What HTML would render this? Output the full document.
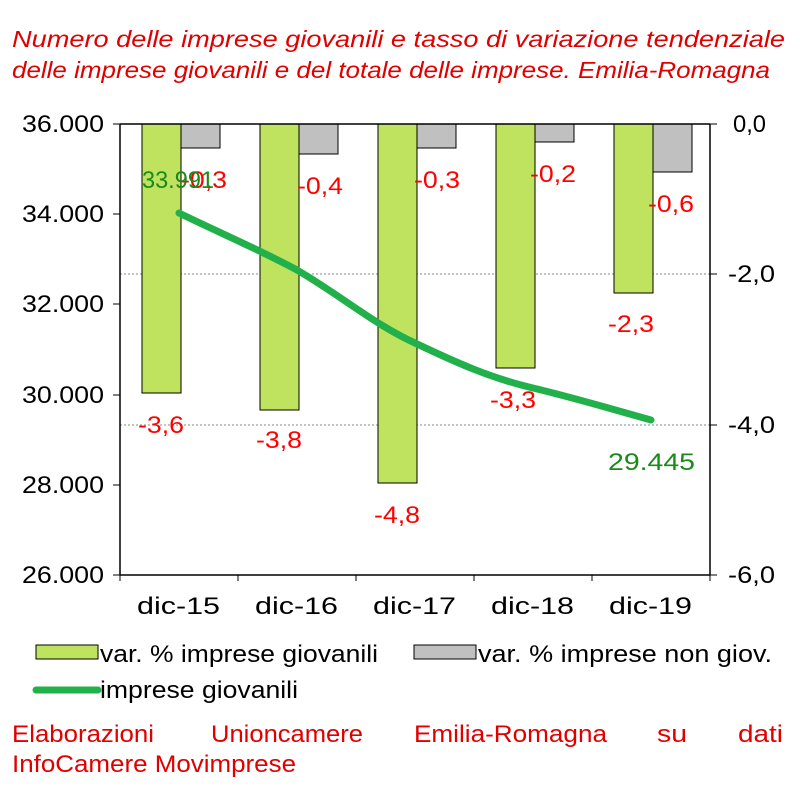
<!DOCTYPE html>
<html><head><meta charset="utf-8"><style>
body{margin:0;background:#fff;width:800px;height:800px;overflow:hidden;font-family:"Liberation Sans",sans-serif}
</style></head><body>
<svg width="800" height="800" xmlns="http://www.w3.org/2000/svg" font-family="Liberation Sans, sans-serif">
<text x="12" y="47" font-size="23" font-style="italic" fill="#e00000" textLength="773" lengthAdjust="spacingAndGlyphs">Numero delle imprese giovanili e tasso di variazione tendenziale</text>
<text x="12" y="78" font-size="23" font-style="italic" fill="#e00000" textLength="758" lengthAdjust="spacingAndGlyphs">delle imprese giovanili e del totale delle imprese. Emilia-Romagna</text>
<line x1="120" y1="274" x2="710" y2="274" stroke="#888" stroke-dasharray="2,2" stroke-width="1"/>
<line x1="120" y1="425" x2="710" y2="425" stroke="#888" stroke-dasharray="2,2" stroke-width="1"/>
<g stroke="#000" stroke-width="1">
<rect x="142" y="124" width="39" height="269" fill="#bfe35f"/>
<rect x="181" y="124" width="39" height="24" fill="#c0c0c0"/>
<rect x="260" y="124" width="39" height="286" fill="#bfe35f"/>
<rect x="299" y="124" width="39" height="30" fill="#c0c0c0"/>
<rect x="378" y="124" width="39" height="359" fill="#bfe35f"/>
<rect x="417" y="124" width="39" height="24" fill="#c0c0c0"/>
<rect x="496" y="124" width="39" height="244" fill="#bfe35f"/>
<rect x="535" y="124" width="39" height="18" fill="#c0c0c0"/>
<rect x="614" y="124" width="39" height="169" fill="#bfe35f"/>
<rect x="653" y="124" width="39" height="48" fill="#c0c0c0"/>
</g>
<g stroke="#000" stroke-width="1.5" fill="none">
<line x1="120" y1="124" x2="120" y2="575"/>
<line x1="710" y1="124" x2="710" y2="575"/>
<line x1="120" y1="575" x2="710" y2="575"/>
<line x1="120" y1="124" x2="710" y2="124"/>
</g>
<g stroke="#000" stroke-width="1">
<line x1="113" y1="124" x2="120" y2="124"/><line x1="113" y1="214" x2="120" y2="214"/><line x1="113" y1="304" x2="120" y2="304"/><line x1="113" y1="395" x2="120" y2="395"/><line x1="113" y1="485" x2="120" y2="485"/><line x1="113" y1="575" x2="120" y2="575"/>
<line x1="710" y1="124" x2="717" y2="124"/><line x1="710" y1="274" x2="717" y2="274"/><line x1="710" y1="425" x2="717" y2="425"/><line x1="710" y1="575" x2="717" y2="575"/>
<line x1="238" y1="575" x2="238" y2="581"/><line x1="356" y1="575" x2="356" y2="581"/><line x1="474" y1="575" x2="474" y2="581"/><line x1="592" y1="575" x2="592" y2="581"/><line x1="120" y1="575" x2="120" y2="581"/><line x1="710" y1="575" x2="710" y2="581"/>
</g>
<path d="M179,213 C220,233 260,250 297,270 C340,295 375,325 415,343 C455,362 490,378 533,388 C575,398 615,410 651,420" stroke="#22b04b" stroke-width="7" fill="none" stroke-linecap="round"/>
<g font-size="24" fill="#000">
<text x="22" y="132" textLength="82" lengthAdjust="spacingAndGlyphs">36.000</text><text x="22" y="222" textLength="82" lengthAdjust="spacingAndGlyphs">34.000</text><text x="22" y="312" textLength="82" lengthAdjust="spacingAndGlyphs">32.000</text><text x="22" y="403" textLength="82" lengthAdjust="spacingAndGlyphs">30.000</text><text x="22" y="493" textLength="82" lengthAdjust="spacingAndGlyphs">28.000</text><text x="22" y="583" textLength="82" lengthAdjust="spacingAndGlyphs">26.000</text>
<text x="733" y="132" textLength="33" lengthAdjust="spacingAndGlyphs">0,0</text><text x="728" y="282" textLength="47" lengthAdjust="spacingAndGlyphs">-2,0</text><text x="728" y="433" textLength="47" lengthAdjust="spacingAndGlyphs">-4,0</text><text x="728" y="583" textLength="47" lengthAdjust="spacingAndGlyphs">-6,0</text>
<text x="137" y="614" textLength="83" lengthAdjust="spacingAndGlyphs">dic-15</text><text x="255" y="614" textLength="83" lengthAdjust="spacingAndGlyphs">dic-16</text><text x="373" y="614" textLength="83" lengthAdjust="spacingAndGlyphs">dic-17</text><text x="491" y="614" textLength="83" lengthAdjust="spacingAndGlyphs">dic-18</text><text x="609" y="614" textLength="83" lengthAdjust="spacingAndGlyphs">dic-19</text>
</g>
<g font-size="24" fill="#ff0000">
<text x="138" y="433" textLength="46" lengthAdjust="spacingAndGlyphs">-3,6</text><text x="256" y="448" textLength="46" lengthAdjust="spacingAndGlyphs">-3,8</text><text x="374" y="523" textLength="46" lengthAdjust="spacingAndGlyphs">-4,8</text><text x="490" y="408" textLength="46" lengthAdjust="spacingAndGlyphs">-3,3</text><text x="608" y="332" textLength="46" lengthAdjust="spacingAndGlyphs">-2,3</text>
<text x="181" y="188" textLength="46" lengthAdjust="spacingAndGlyphs">-0,3</text><text x="297" y="194" textLength="46" lengthAdjust="spacingAndGlyphs">-0,4</text><text x="414" y="188" textLength="46" lengthAdjust="spacingAndGlyphs">-0,3</text><text x="530" y="182" textLength="46" lengthAdjust="spacingAndGlyphs">-0,2</text><text x="648" y="212" textLength="46" lengthAdjust="spacingAndGlyphs">-0,6</text>
</g>
<text x="142" y="188" font-size="24" fill="#1a8a1a" textLength="72" lengthAdjust="spacingAndGlyphs">33.991</text>
<text x="608" y="470" font-size="24" fill="#1a8a1a" textLength="87" lengthAdjust="spacingAndGlyphs">29.445</text>
<rect x="36" y="645" width="62" height="14" fill="#bfe35f" stroke="#000"/>
<text x="100" y="662" font-size="24" textLength="278" lengthAdjust="spacingAndGlyphs">var. % imprese giovanili</text>
<rect x="414" y="645" width="62" height="14" fill="#c0c0c0" stroke="#000"/>
<text x="478" y="662" font-size="24" textLength="294" lengthAdjust="spacingAndGlyphs">var. % imprese non giov.</text>
<line x1="36" y1="690" x2="98" y2="690" stroke="#22b04b" stroke-width="7" stroke-linecap="round"/>
<text x="100" y="698" font-size="24" textLength="198" lengthAdjust="spacingAndGlyphs">imprese giovanili</text>
<g font-size="24" fill="#e00000">
<text x="12" y="742" textLength="142" lengthAdjust="spacingAndGlyphs">Elaborazioni</text><text x="211" y="742" textLength="152" lengthAdjust="spacingAndGlyphs">Unioncamere</text><text x="414" y="742" textLength="193" lengthAdjust="spacingAndGlyphs">Emilia-Romagna</text><text x="657" y="742" textLength="30" lengthAdjust="spacingAndGlyphs">su</text><text x="738" y="742" textLength="45" lengthAdjust="spacingAndGlyphs">dati</text>
<text x="12" y="772" textLength="284" lengthAdjust="spacingAndGlyphs">InfoCamere Movimprese</text>
</g>
</svg>
</body></html>
